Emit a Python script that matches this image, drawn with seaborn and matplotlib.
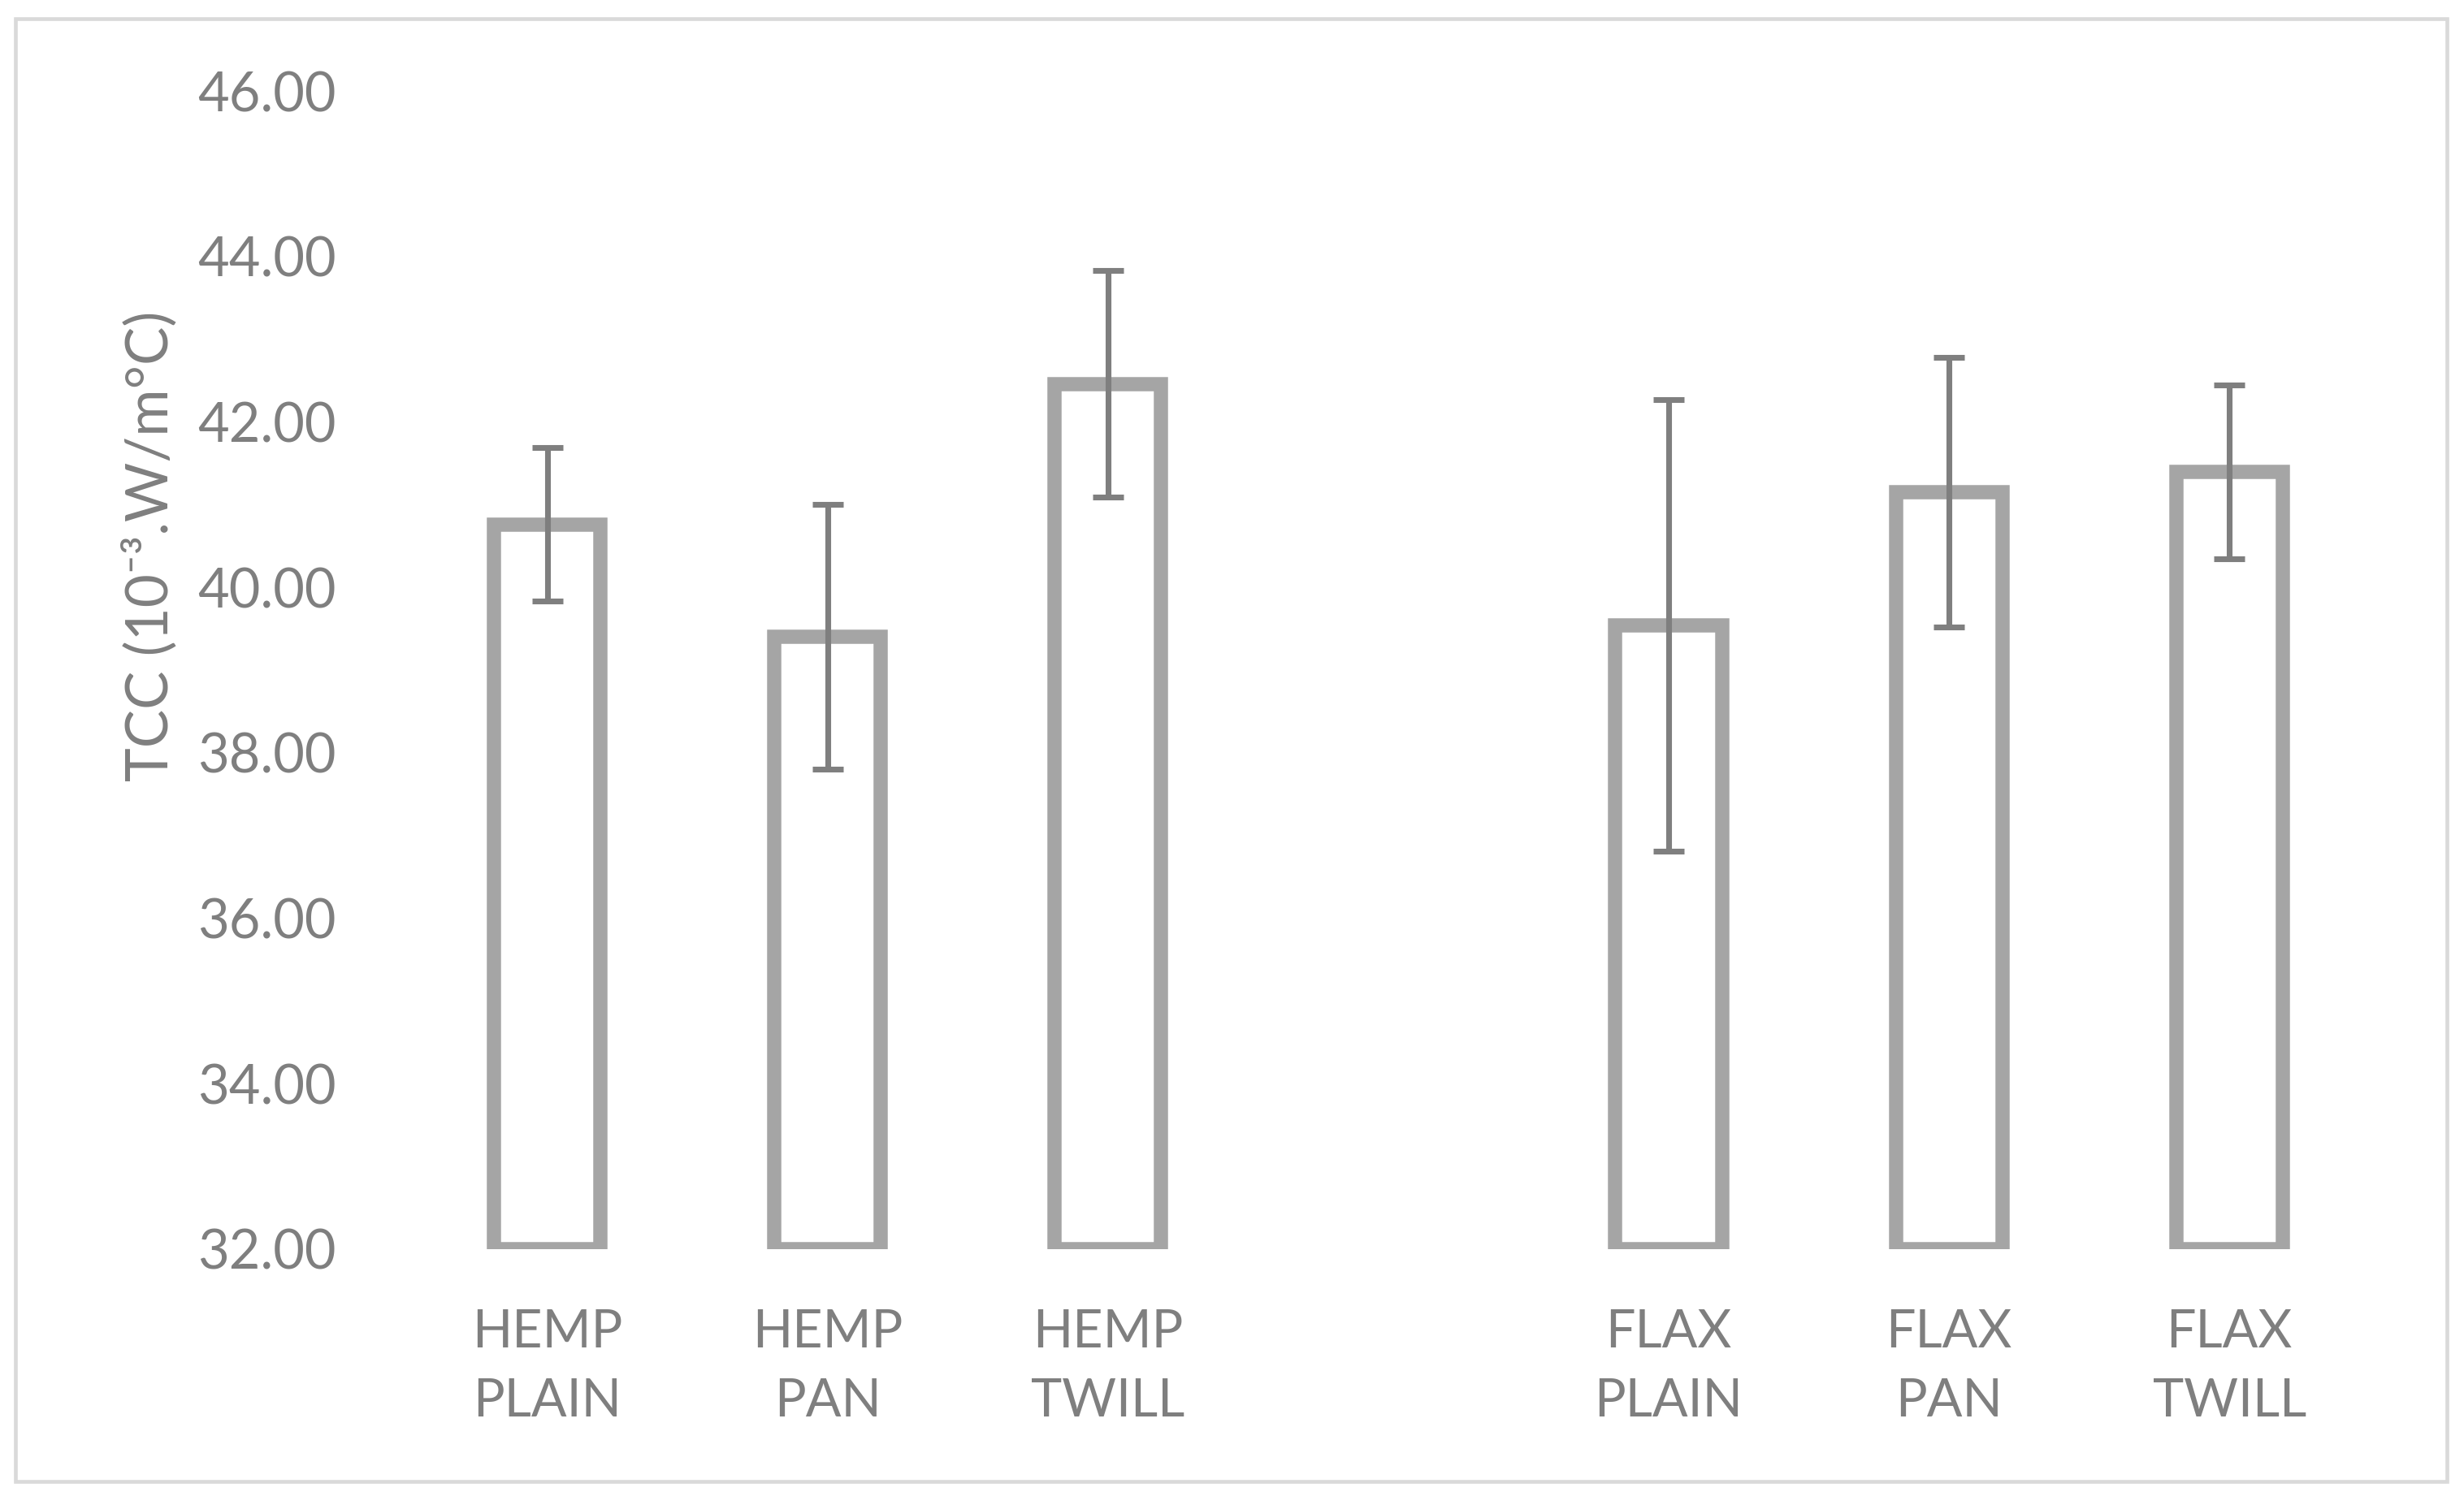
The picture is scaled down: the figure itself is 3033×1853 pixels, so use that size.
import matplotlib
matplotlib.use('Agg')

import pandas as pd
import matplotlib.pyplot as plt
import seaborn as sns
from matplotlib.patches import Rectangle

# values (TCC, 10^-3 W/m°C)
categories = ["HEMP\nPLAIN", "HEMP\nPAN", "HEMP\nTWILL", "FLAX\nPLAIN", "FLAX\nPAN", "FLAX\nTWILL"]
order = ["HEMP\nPLAIN", "HEMP\nPAN", "HEMP\nTWILL", " ", "FLAX\nPLAIN", "FLAX\nPAN", "FLAX\nTWILL"]
tcc = [40.76, 39.40, 42.46, 39.54, 41.15, 41.40]
tcc_err = [0.93, 1.60, 1.37, 2.73, 1.63, 1.05]
yticks = [32, 34, 36, 38, 40, 42, 44, 46]
base = 32

grey_txt = '#7f7f7f'

sns.set_style('white')
plt.rcParams['font.family'] = ['Lato', 'DejaVu Sans']

df = pd.DataFrame({'sample': categories, 'tcc': tcc, 'err': tcc_err})
df['height'] = df['tcc'] - base   # bars start at the axis floor like in excel

fig = plt.figure(figsize=(3033 / 300, 1853 / 300), dpi=300)
ax = fig.add_axes([0.1652, 0.1702, 0.9617 - 0.1652, 0.9394 - 0.1702])

sns.barplot(data=df, x='sample', y='height', order=order, ax=ax,
            fill=False, color='#a5a5a5', linewidth=4.2, width=0.38,
            errorbar=None, bottom=base, zorder=2)

pos = [order.index(c) for c in df['sample']]
ax.errorbar(pos, df['tcc'], yerr=df['err'], fmt='none', ecolor='#7f7f7f',
            elinewidth=1.7, capsize=4.6, capthick=1.7, zorder=3)

ax.set_xlim(-0.5, len(order) - 0.5)
ax.set_ylim(yticks[0], yticks[-1])
ax.set_yticks(yticks)
ax.set_yticklabels(['%.2f' % t for t in yticks])
ax.set_xlabel('')
ax.set_ylabel('TCC (10\u207b\u00b3.W/m\u00b0C)', fontsize=17, color=grey_txt)
ax.yaxis.set_label_coords(-0.117, 0.607)

ax.tick_params(axis='y', length=0, pad=21, labelsize=16, labelcolor=grey_txt)
ax.tick_params(axis='x', length=0, pad=17.5, labelsize=15.5, labelcolor=grey_txt)
for lab in ax.get_xticklabels():
    lab.set_linespacing(1.55)

sns.despine(ax=ax, left=True, bottom=True)

# light grey frame around the whole chart
fig.patches.append(Rectangle((19 / 3033, 1 - 1824 / 1853), (3012 - 19) / 3033, (1824 - 23) / 1853,
                             transform=fig.transFigure, fill=False, edgecolor='#d9d9d9', linewidth=1.1))

fig.savefig('out.png', dpi=300)
